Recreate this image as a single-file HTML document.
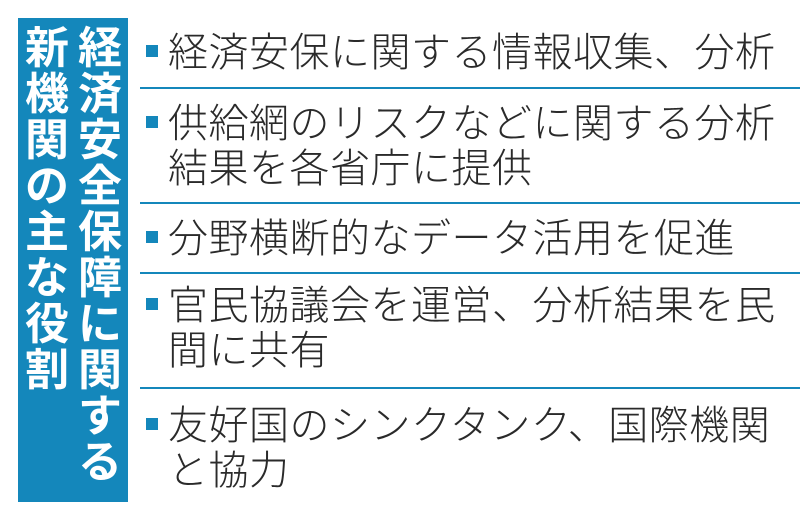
<!DOCTYPE html>
<html><head><meta charset="utf-8"><style>
body{margin:0;width:800px;height:521px;background:#fff;position:relative;overflow:hidden;font-family:"Liberation Sans","Noto Sans CJK JP",sans-serif;}
.box{position:absolute;left:18px;top:18px;width:110px;height:484px;background:#1487bb;}
.col{position:absolute;top:26px;width:48px;color:#fff;font-weight:bold;font-size:44px;line-height:46px;text-align:center;}
.col div{height:46px}
.t{position:absolute;left:168px;font-size:40px;line-height:45px;color:#2a2a2a;font-weight:300;letter-spacing:0.5px;white-space:nowrap;}
.b{position:absolute;left:146px;width:12px;height:12px;background:#1487bb;}
.l{position:absolute;left:140px;right:0;height:2px;background:#1487bb;}
</style></head><body>
<div class="box"></div>
<div class="col" style="left:23px"><div>新</div><div>機</div><div>関</div><div>の</div><div>主</div><div>な</div><div>役</div><div>割</div></div>
<div class="col" style="left:76px"><div>経</div><div>済</div><div>安</div><div>全</div><div>保</div><div>障</div><div>に</div><div>関</div><div>す</div><div>る</div></div>

<div class="b" style="top:45px"></div>
<div class="t" style="top:31px">経済安保に関する情報収集、分析</div>
<div class="l" style="top:87px"></div>

<div class="b" style="top:116px"></div>
<div class="t" style="top:102px">供給網のリスクなどに関する分析<br>結果を各省庁に提供</div>
<div class="l" style="top:202px"></div>

<div class="b" style="top:231px"></div>
<div class="t" style="top:217px">分野横断的なデータ活用を促進</div>
<div class="l" style="top:272px"></div>

<div class="b" style="top:298px"></div>
<div class="t" style="top:284px">官民協議会を運営、分析結果を民<br>間に共有</div>
<div class="l" style="top:387px"></div>

<div class="b" style="top:418px"></div>
<div class="t" style="top:404px">友好国のシンクタンク、国際機関<br>と協力</div>
</body></html>
